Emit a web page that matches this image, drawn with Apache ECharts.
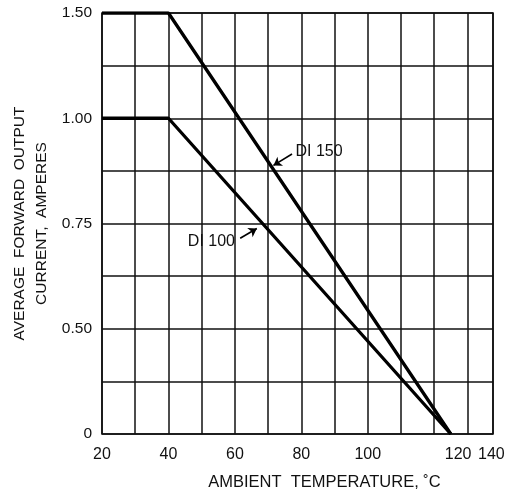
<!DOCTYPE html>
<html>
<head>
<meta charset="utf-8">
<script src="https://cdn.jsdelivr.net/npm/echarts@6/dist/echarts.min.js"></script>
<style>
html,body{margin:0;padding:0;background:#fff;}
#chart{width:510px;height:493px;}
</style>
</head>
<body>
<div id="chart"></div>
<script>
// ---- data ----
var temps = [20, 40, 125];              // ambient temperature, °C
var di150 = [1.50, 1.50, 0];            // amperes
var di100 = [1.00, 1.00, 0];            // amperes
var yTickLabels = ['0', '0.50', '0.75', '1.00', '1.50'];
var yTickAmps = [0, 0.50, 0.75, 1.00, 1.50];
var xTickLabels = ['20', '40', '60', '80', '100', '120', '140'];

// ---- layout (label placement as printed on the original sheet) ----
var yTickRows = [0, 2, 4, 6, 8];
var xLabelAt = [20, 40, 60, 80, 100, 127.2, 137.2];

// map amperes to the printed (non-uniform) vertical scale
function toRow(a) {
  for (var i = 0; i < yTickAmps.length - 1; i++) {
    if (a <= yTickAmps[i + 1]) {
      var f = (a - yTickAmps[i]) / (yTickAmps[i + 1] - yTickAmps[i]);
      return yTickRows[i] + f * (yTickRows[i + 1] - yTickRows[i]);
    }
  }
  return yTickRows[yTickRows.length - 1];
}
function pairs(xs, ys) {
  return xs.map(function (x, i) { return [x, toRow(ys[i])]; });
}

var font = 'Liberation Sans, Arial, Helvetica, sans-serif';
var ink = '#111';

var chart = echarts.init(document.getElementById('chart'), null, {renderer: 'canvas'});
chart.setOption({
  animation: false,
  backgroundColor: '#fff',
  grid: {left: 102, right: 17, top: 13, bottom: 59, containLabel: false, outerBoundsMode: 'none',
         show: true, borderColor: ink, borderWidth: 1.6},
  xAxis: {
    type: 'value', min: 20, max: 137.7, interval: 10,
    name: 'AMBIENT  TEMPERATURE, \u02DAC',
    nameLocation: 'middle', nameGap: 40, nameMoveOverlap: false,
    nameTextStyle: {fontFamily: font, fontSize: 16.5, color: ink, padding: [0, 0, 0, 54]},
    axisLine: {show: false},
    axisTick: {show: false},
    splitLine: {show: true, lineStyle: {color: ink, width: 1.5}},
    axisLabel: {
      customValues: xLabelAt,
      fontFamily: font, fontSize: 16, color: ink, margin: 13,
      formatter: function (v) {
        var i = xLabelAt.indexOf(v);
        return i >= 0 ? xTickLabels[i] : '';
      }
    }
  },
  yAxis: {
    type: 'value', min: 0, max: 8, interval: 1,
    name: 'AVERAGE  FORWARD  OUTPUT\nCURRENT,  AMPERES',
    nameLocation: 'middle', nameGap: 49, nameRotate: 90, nameMoveOverlap: false,
    nameTextStyle: {fontFamily: font, fontSize: 15.5, color: ink, lineHeight: 22, align: 'center'},
    axisLine: {show: false},
    axisTick: {show: false},
    splitLine: {show: true, lineStyle: {color: ink, width: 1.5}},
    axisLabel: {
      customValues: yTickRows,
      fontFamily: font, fontSize: 15.5, color: ink, margin: 10,
      formatter: function (v) {
        var i = yTickRows.indexOf(v);
        return i >= 0 ? yTickLabels[i] : '';
      }
    }
  },
  series: [
    {
      name: 'DI150', type: 'line', data: pairs(temps, di150),
      symbol: 'none', lineStyle: {color: '#000', width: 3.3},
      markLine: {
        silent: true, symbol: ['none', 'arrow'], symbolSize: 8,
        lineStyle: {color: '#000', width: 1.6, type: 'solid'},
        label: {show: true, position: 'start', formatter: 'DI 150', fontFamily: font, fontSize: 16, color: ink, distance: 4},
        data: [[{coord: [77.2, toRow(0.915)]}, {coord: [71.6, toRow(0.888)]}]]
      }
    },
    {
      name: 'DI100', type: 'line', data: pairs(temps, di100),
      symbol: 'none', lineStyle: {color: '#000', width: 3.3},
      markLine: {
        silent: true, symbol: ['none', 'arrow'], symbolSize: 8,
        lineStyle: {color: '#000', width: 1.6, type: 'solid'},
        label: {show: true, position: 'start', formatter: 'DI 100', fontFamily: font, fontSize: 16, color: ink, distance: 6},
        data: [[{coord: [61.6, toRow(0.715)]}, {coord: [66.6, toRow(0.738)]}]]
      }
    }
  ]
});
</script>
</body>
</html>
